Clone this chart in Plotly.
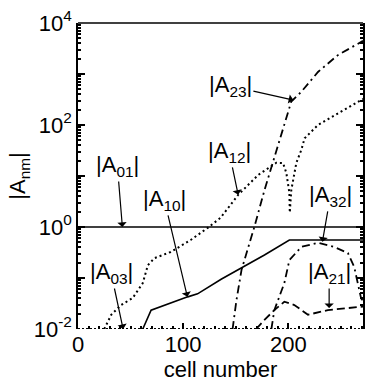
import plotly.graph_objects as go

# ---- data ----
x_A01 = [0, 271]
y_A01 = [1.0, 1.0]

x_A03 = [0, 271]
y_A03 = [0.01, 0.01]

x_A10 = [61.6, 69.5, 104.3, 113.7, 136.5, 155.5, 177.3, 201.0, 271.0]
logy_A10 = [-2.0, -1.63, -1.37, -1.31, -1.02, -0.80, -0.55, -0.255, -0.255]

x_A12 = [25.0, 31.6, 41.0, 52.1, 61.6, 66.4, 72.7, 88.2, 107.1, 123.2, 135.5, 152.3,
         171.3, 188.6, 195.0, 198.1, 201.0, 201.4, 202.8, 207.6, 212.3, 215.5, 228.2, 247.1, 269.2, 271.0]
logy_A12 = [-2.0, -1.72, -1.53, -1.39, -1.10, -0.75, -0.61, -0.49, -0.255, -0.02, 0.18, 0.63,
            1.02, 1.26, 1.255, 1.06, 0.67, 0.28, 0.72, 1.255, 1.51, 1.74, 2.0, 2.23, 2.49, 2.51]

x_A23 = [147.0, 150.7, 155.5, 167.8, 177.3, 186.7, 196.2, 202.8, 212.3, 228.2, 247.1, 269.2, 271.0]
logy_A23 = [-2.0, -1.43, -0.84, 0.01, 0.72, 1.38, 2.0, 2.46, 2.65, 3.04, 3.37, 3.63, 3.65]

x_A32 = [183.9, 186.7, 196.2, 201.0, 212.3, 228.2, 243.6, 256.6, 262.6, 266.1, 269.2, 271.0]
logy_A32 = [-2.0, -1.63, -1.10, -0.65, -0.39, -0.31, -0.39, -0.51, -0.78, -1.10, -1.40, -1.45]

x_A21 = [169.4, 177.3, 186.7, 196.2, 205.7, 218.7, 237.6, 256.6, 271.0]
logy_A21 = [-2.0, -1.82, -1.63, -1.465, -1.53, -1.72, -1.63, -1.59, -1.56]

ytick_vals = [0.01, 0.1, 1, 10, 100, 1000, 10000]
ytick_text = ["10<sup>-2</sup>", "", "10<sup>0</sup>", "", "10<sup>2</sup>", "", "10<sup>4</sup>"]
xtick_vals = [0, 100, 200]
xtick_text = ["0", "100", "200"]

# annotation labels: (text, tip x, tip log y, ax, ay)
labels = [
    ("|A<sub>01</sub>|", 42.2, 0.0, -5, -61),
    ("|A<sub>10</sub>|", 104.0, -1.37, -23, -97),
    ("|A<sub>03</sub>|", 42.9, -2.0, -12, -56),
    ("|A<sub>12</sub>|", 152.3, 0.63, -9, -43),
    ("|A<sub>23</sub>|", 204.8, 2.49, -63, -14),
    ("|A<sub>32</sub>|", 232.4, -0.29, 8, -46),
    ("|A<sub>21</sub>|", 238.8, -1.59, 0, -35),
]

def tolin(v):
    return [10 ** a for a in v]

minor_y = [m * 10 ** e for e in range(-2, 4) for m in range(2, 10)]
minor_x = [v for v in range(10, 271, 10) if v % 100 != 0]

FONT = "Liberation Sans, Arial, sans-serif"
fig = go.Figure()
fig.add_trace(go.Scatter(x=x_A01, y=y_A01, mode="lines", line=dict(color="black", width=1.6)))
fig.add_trace(go.Scatter(x=x_A03, y=y_A03, mode="lines", cliponaxis=False,
                         line=dict(color="black", width=2.2, dash="2px,2px")))
fig.add_trace(go.Scatter(x=x_A10, y=tolin(logy_A10), mode="lines", line=dict(color="black", width=1.6)))
fig.add_trace(go.Scatter(x=x_A12, y=tolin(logy_A12), mode="lines",
                         line=dict(color="black", width=2.0, dash="2px,3px")))
fig.add_trace(go.Scatter(x=x_A23, y=tolin(logy_A23), mode="lines",
                         line=dict(color="black", width=1.8, dash="8px,4px,2px,4px")))
fig.add_trace(go.Scatter(x=x_A32, y=tolin(logy_A32), mode="lines",
                         line=dict(color="black", width=1.8, dash="8px,4px,2px,4px")))
fig.add_trace(go.Scatter(x=x_A21, y=tolin(logy_A21), mode="lines",
                         line=dict(color="black", width=1.8, dash="8px,4px")))

for text, tx, ty, ax, ay in labels:
    fig.add_annotation(x=tx, y=ty, text=text, showarrow=True, ax=ax, ay=ay,
                       arrowhead=1, arrowsize=1.3, arrowwidth=1.2, arrowcolor="black",
                       font=dict(family=FONT, size=22, color="black"))

fig.add_shape(type="line", xref="paper", yref="paper", x0=0, x1=1, y0=1, y1=1,
              line=dict(color="black", width=1.5))

fig.update_layout(
    width=366, height=383,
    margin=dict(l=78, r=3, t=23, b=54),
    paper_bgcolor="white", plot_bgcolor="white",
    showlegend=False,
    font=dict(family=FONT, size=22, color="black"),
    xaxis=dict(range=[0, 271], tickmode="array", tickvals=xtick_vals, ticktext=xtick_text,
               ticks="inside", ticklen=6, tickwidth=1.5, tickcolor="black",
               showline=False, showgrid=False, zeroline=False, automargin=False,
               ticklabeloverflow="allow",
               minor=dict(ticks="inside", ticklen=3, tickcolor="black", tickmode="array",
                          tickvals=minor_x),
               title=dict(text="cell number", standoff=0, font=dict(size=22))),
    yaxis=dict(type="log", range=[-2, 4], tickmode="array", tickvals=ytick_vals, ticktext=ytick_text,
               ticks="inside", ticklen=7, tickwidth=1.5, tickcolor="black",
               showline=True, linecolor="black", linewidth=1.5, mirror="ticks",
               showgrid=False, zeroline=False, automargin=False,
               ticklabeloverflow="allow",
               minor=dict(ticks="inside", ticklen=3, tickcolor="black", tickmode="array",
                          tickvals=minor_y),
               title=dict(text="|A<sub>nm</sub>|", standoff=2, font=dict(size=22))),
)

fig.write_html("out.html", config={"displayModeBar": False},
               post_script="document.body.style.margin='0';document.body.style.overflow='hidden';")
